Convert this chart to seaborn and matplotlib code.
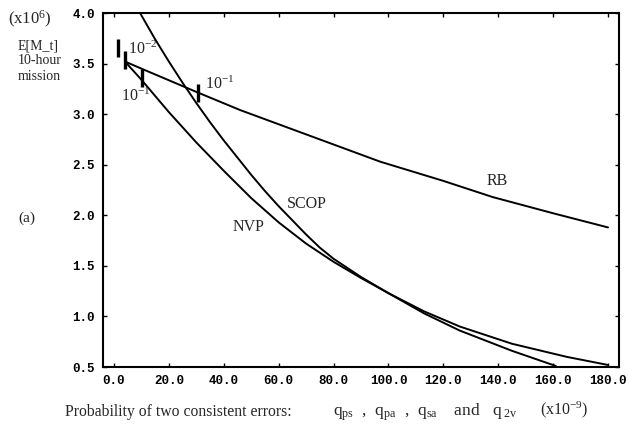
import matplotlib
matplotlib.use("Agg")
import matplotlib.pyplot as plt
import seaborn as sns
import pandas as pd

# ---- data ----
nvp_q = [4, 10, 20, 30, 40, 50, 60, 70, 80, 90, 100, 113, 126, 145, 165, 180]
nvp_e = [3.52, 3.34, 3.02, 2.72, 2.44, 2.17, 1.93, 1.72, 1.54, 1.38, 1.23, 1.05, 0.90, 0.73, 0.60, 0.52]

scop_q = [9.5, 15, 20, 25, 30, 35, 40, 45, 50, 55, 60, 65, 70, 75, 80, 90, 100, 113, 126, 145, 161]
scop_e = [4.0, 3.74, 3.52, 3.31, 3.11, 2.92, 2.74, 2.57, 2.40, 2.24, 2.09, 1.95, 1.81, 1.68, 1.57,
          1.39, 1.23, 1.03, 0.86, 0.66, 0.51]

rb_q = [4, 10, 30, 46, 74, 97, 120, 138, 160, 180]
rb_e = [3.52, 3.45, 3.22, 3.04, 2.76, 2.53, 2.34, 2.18, 2.02, 1.88]

marker_q = [1.6, 4.0, 10.2, 30.6]
marker_e = [3.65, 3.535, 3.36, 3.21]

x_ticks = [0, 20, 40, 60, 80, 100, 120, 140, 160, 180]
x_labels = ["0.0", "20.0", "40.0", "60.0", "80.0", "100.0", "120.0", "140.0", "160.0", "180.0"]
y_ticks = [0.5, 1.0, 1.5, 2.0, 2.5, 3.0, 3.5, 4.0]
y_labels = ["0.5", "1.0", "1.5", "2.0", "2.5", "3.0", "3.5", "4.0"]

df = pd.concat([
    pd.DataFrame({"q": nvp_q, "E": nvp_e, "curve": "NVP"}),
    pd.DataFrame({"q": scop_q, "E": scop_e, "curve": "SCOP"}),
    pd.DataFrame({"q": rb_q, "E": rb_e, "curve": "RB"}),
], ignore_index=True)

sns.set_theme(style="ticks")
plt.rcParams["font.family"] = ["Liberation Serif", "DejaVu Serif"]
plt.rcParams["mathtext.fontset"] = "custom"
plt.rcParams["mathtext.rm"] = "Liberation Serif"
plt.rcParams["mathtext.it"] = "Liberation Serif:italic"

W, H = 628, 432
fig = plt.figure(figsize=(W / 100, H / 100), dpi=100)
fig.patch.set_facecolor("white")
ax = fig.add_axes([103 / W, 1 - 367 / H, (619 - 103) / W, (367 - 13) / H])

sns.lineplot(data=df, x="q", y="E", units="curve", estimator=None, sort=False,
             color="black", lw=1.4, ax=ax, legend=False)
ax.plot(marker_q, marker_e, ls="none", marker="|", ms=13, mew=2.4, color="black")

ax.set_xlim(-4.0, 184.0)
ax.set_ylim(0.5, 4.0)
ax.set_xticks(x_ticks)
ax.set_xticklabels(x_labels)
ax.set_yticks(y_ticks)
ax.set_yticklabels(y_labels)
ax.set_xlabel("")
ax.set_ylabel("")
ax.tick_params(direction="in", length=3, width=1, top=True, right=True,
               labelsize=9, colors="black")
ax.tick_params(axis="x", pad=6)
ax.tick_params(axis="y", pad=6)
for lab in ax.get_xticklabels() + ax.get_yticklabels():
    lab.set_fontfamily("Liberation Mono")
    lab.set_fontweight("bold")
for sp in ax.spines.values():
    sp.set_visible(True)
    sp.set_linewidth(1.5)
    sp.set_color("black")

# curve labels
ax.text(139.6, 2.34, "RB", ha="center", va="center", fontsize=11.5)
ax.text(70.3, 2.11, "SCOP", ha="center", va="center", fontsize=11.5)
ax.text(49.0, 1.88, "NVP", ha="center", va="center", fontsize=11.5)
ax.text(10.5, 3.64, r"10$^{-2}$", ha="center", va="center", fontsize=11.5)
ax.text(8.0, 3.18, r"10$^{-1}$", ha="center", va="center", fontsize=11.5)
ax.text(38.5, 3.29, r"10$^{-1}$", ha="center", va="center", fontsize=11.5)

# figure texts
def ftext(x, y, s, **kw):
    fig.text(x / W, 1 - y / H, s, **kw)

ftext(8, 19, r"(x10$^{6}$)", ha="left", va="center", fontsize=12)
ftext(18, 46, "E[M_t]", ha="left", va="center", fontsize=10)
ftext(18, 61, "10-hour", ha="left", va="center", fontsize=10)
ftext(18, 76, "mission", ha="left", va="center", fontsize=10)
ftext(18, 218, "(a)", ha="left", va="center", fontsize=11)
ftext(65, 412, "Probability of two consistent errors:", ha="left", va="center", fontsize=11.3)
ftext(333, 412, r"q$_{\mathrm{ps}}$  ,  q$_{\mathrm{pa}}$  ,  q$_{\mathrm{sa}}$    and   q$_{\ \mathrm{2v}}$",
      ha="left", va="center", fontsize=12.5)
ftext(540, 410, r"(x10$^{-9}$)", ha="left", va="center", fontsize=11.5)

fig.savefig("out.png", dpi=100, facecolor="white")
